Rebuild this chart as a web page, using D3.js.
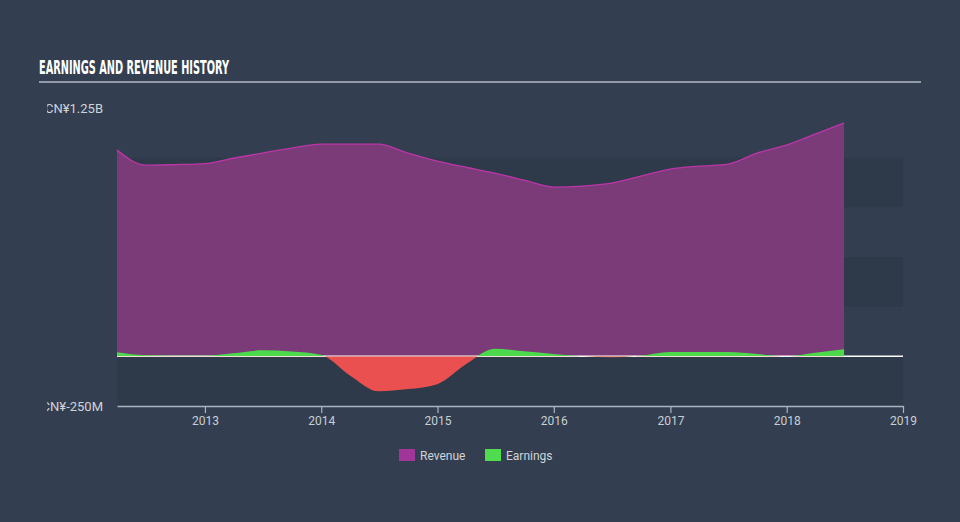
<!DOCTYPE html>
<html><head><meta charset="utf-8">
<script src="https://cdn.jsdelivr.net/npm/d3@7"></script>
<style>
html,body{margin:0;padding:0;background:#333f50;}
svg{display:block;}
</style></head>
<body>
<script>
const dates = ["2012-03-31","2012-06-30","2012-09-30","2012-12-31","2013-03-31","2013-06-30","2013-09-30","2013-12-31","2014-03-31","2014-06-30","2014-09-30","2014-12-31","2015-03-31","2015-06-30","2015-09-30","2015-12-31","2016-03-31","2016-06-30","2016-09-30","2016-12-31","2017-03-31","2017-06-30","2017-09-30","2017-12-31","2018-03-31","2018-06-30"];
const revenue = [1038,962,965,970,997,1023,1048,1068,1068,1068,1023,982,952,922,887,852,857,872,907,942,957,967,1023,1063,1118,1174];
const earnings = [20,5,3,3,15,30,24,8,-95,-176,-165,-140,-40,38,25,12,0,-5,3,22,22,22,12,0,18,36];
const yTicks = [-250, 1250];
const yTickLabels = ["CN¥-250M", "CN¥1.25B"];
const xTickYears = [2013,2014,2015,2016,2017,2018,2019];
const bands = [[-250,0],[250,500],[750,1000]];
const seriesNames = ["Revenue","Earnings"];

const W = 960, H = 522;
const parse = d3.timeParse("%Y-%m-%d");
const data = dates.map((d,i)=>({date:parse(d), rev:revenue[i], earn:earnings[i]}));

const svg = d3.select("body").append("svg").attr("width",W).attr("height",H);
const defs = svg.append("defs");

const x = d3.scaleTime().domain([parse("2012-03-31"), new Date(2019,0,1)]).range([117,903]);
const y = d3.scaleLinear().domain([-250,1250]).range([406,108]);

// bands
svg.append("g").selectAll("rect").data(bands).join("rect")
  .attr("x",x.range()[0]).attr("width",x.range()[1]-x.range()[0])
  .attr("y",d=>y(d[1])).attr("height",d=>y(d[0])-y(d[1]))
  .attr("fill","#2e3a49");

// title
svg.append("text").attr("x",39).attr("y",74)
  .attr("font-family","'DejaVu Sans Condensed','Liberation Sans Narrow',sans-serif")
  .attr("font-weight","bold").attr("font-size",20).attr("fill","#ffffff")
  .attr("textLength",190).attr("lengthAdjust","spacingAndGlyphs")
  .text("EARNINGS AND REVENUE HISTORY");
svg.append("line").attr("x1",39).attr("x2",921).attr("y1",82).attr("y2",82)
  .attr("stroke","#b4bac2").attr("stroke-width",1.5);

// revenue
const curve = d3.curveMonotoneX;
svg.append("path").datum(data)
  .attr("d", d3.area().x(d=>x(d.date)).y0(y(0)).y1(d=>y(d.rev)).curve(curve))
  .attr("fill","#7b3a78");
svg.append("path").datum(data)
  .attr("d", d3.line().x(d=>x(d.date)).y(d=>y(d.rev)).curve(curve))
  .attr("fill","none").attr("stroke","#bd36a8").attr("stroke-width",1.3);

// zero line
svg.append("line").attr("x1",117).attr("x2",903).attr("y1",y(0)).attr("y2",y(0))
  .attr("stroke","#ffffff").attr("stroke-width",1.5);

// earnings with clips
defs.append("clipPath").attr("id","above").append("rect")
  .attr("x",0).attr("y",0).attr("width",W).attr("height",y(0));
defs.append("clipPath").attr("id","below").append("rect")
  .attr("x",0).attr("y",y(0)).attr("width",W).attr("height",H);
const earnArea = d3.area().x(d=>x(d.date)).y0(y(0)).y1(d=>y(d.earn)).curve(curve);
svg.append("path").datum(data).attr("d",earnArea).attr("fill","#4cd94c").attr("clip-path","url(#above)");
svg.append("path").datum(data).attr("d",earnArea).attr("fill","#eb5050").attr("clip-path","url(#below)");

// x axis
const xAxis = d3.axisBottom(x).tickValues(xTickYears.map(yy=>new Date(yy,0,1)))
  .tickFormat(d3.timeFormat("%Y")).tickSize(7).tickSizeOuter(0);
const gx = svg.append("g").attr("transform",`translate(0,${y(-250)})`).call(xAxis);
gx.select(".domain").attr("stroke","#aab4c2").attr("stroke-width",1.5);
gx.selectAll(".tick line").attr("stroke","#aab4c2").attr("stroke-width",1.2);
gx.selectAll(".tick text").attr("fill","#c9ced4").attr("font-family","Roboto, sans-serif")
  .attr("font-size",12).attr("dy","0.95em").attr("y",8);

// y labels (clipped at left)
defs.append("clipPath").attr("id","ylab").append("rect")
  .attr("x",47).attr("y",0).attr("width",200).attr("height",H);
svg.append("g").attr("clip-path","url(#ylab)").selectAll("text").data(yTicks).join("text")
  .attr("x",103).attr("y",d=>y(d)).attr("dy","0.35em").attr("text-anchor","end")
  .attr("font-family","Roboto, sans-serif").attr("font-size",13).attr("fill","#cfd3d8")
  .text((d,i)=>yTickLabels[i]);

// legend
const legColors = ["#a0359a","#4fdd4f"];
const legX = [399,485];
const lg = svg.append("g");
seriesNames.forEach((n,i)=>{
  lg.append("rect").attr("x",legX[i]).attr("y",449).attr("width",16).attr("height",12).attr("fill",legColors[i]);
  lg.append("text").attr("x",legX[i]+21).attr("y",456).attr("dy","0.35em")
    .attr("font-family","Roboto, sans-serif").attr("font-size",12).attr("fill","#d0d4d8").text(n);
});
</script>
</body></html>
